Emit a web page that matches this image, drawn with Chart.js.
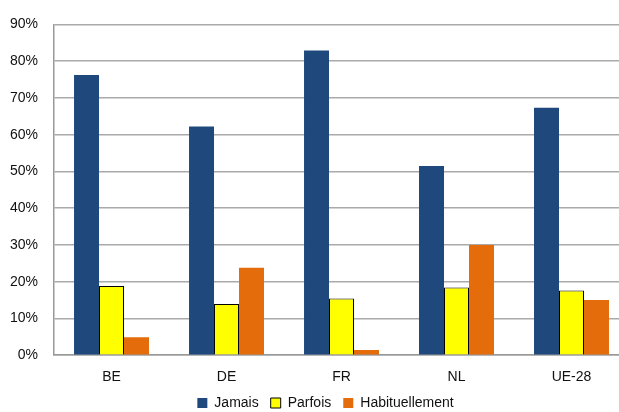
<!DOCTYPE html>
<html>
<head>
<meta charset="utf-8">
<script src="https://cdn.jsdelivr.net/npm/chart.js@4"></script>
<style>
  html, body { margin: 0; padding: 0; background: #fff; overflow: hidden; }
  #wrap { width: 650px; height: 412px; }
</style>
</head>
<body>
<div id="wrap"><canvas id="myChart" width="650" height="412"></canvas></div>
<script>
const pays = ['BE', 'DE', 'FR', 'NL', 'UE-28'];
const jamais = [76.2, 62.2, 82.9, 51.5, 67.3];
const parfois = [18.8, 13.9, 15.4, 18.4, 17.6];
const habituellement = [4.9, 23.8, 1.4, 30.0, 15.0];
const yTicks = [0, 10, 20, 30, 40, 50, 60, 70, 80, 90];

Chart.defaults.font.family = "'Liberation Sans', Arial, sans-serif";
Chart.defaults.font.size = 14;
Chart.defaults.color = '#111';

// tighter legend box, then nudge it right/up after layout
const legendShift = {
  id: 'legendShift',
  afterInit(chart) {
    const lg = chart.legend;
    const fit = lg.fit;
    lg.fit = function() {
      fit.call(this);
      this.height -= 24;
    };
  },
  afterLayout(chart) {
    const lg = chart.legend;
    lg.left += 14;
    lg.right += 14;
    lg.top -= 16;
    lg.bottom = chart.height;
  }
};

const ctx = document.getElementById('myChart');

var chart = new Chart(ctx, {
  type: 'bar',
  data: {
    labels: pays,
    datasets: [{
      label: 'Jamais',
      data: jamais,
      backgroundColor: '#1f497d',
      borderWidth: 0
    },
    {
      label: 'Parfois',
      data: parfois,
      backgroundColor: '#ffff00',
      borderColor: '#000',
      borderWidth: 1
    },
    {
      label: 'Habituellement',
      data: habituellement,
      backgroundColor: '#e46c0a',
      borderWidth: 0
    }]
  },
  plugins: [legendShift],
  options: {
    responsive: false,
    animation: false,
    categoryPercentage: 0.652,
    barPercentage: 1.0,
    layout: {
      padding: { top: 9, left: -6, right: 21, bottom: 0 }
    },
    plugins: {
      tooltip: { enabled: false },
      legend: {
        position: 'bottom',
        labels: {
          boxWidth: 10,
          boxHeight: 10,
          padding: 12
        }
      }
    },
    scales: {
      x: {
        grid: { display: false, drawTicks: false },
        border: { color: '#999', width: 1.5 },
        ticks: { padding: 14 }
      },
      y: {
        min: 0,
        max: 90,
        afterBuildTicks: function(axis) {
          axis.ticks = yTicks.map(v => ({ value: v }));
        },
        grid: { color: '#aaa', lineWidth: 1.5, drawTicks: false },
        border: { color: '#999', width: 1.5 },
        ticks: {
          padding: 16,
          callback: v => v + '%'
        }
      }
    }
  }
});
</script>
</body>
</html>
